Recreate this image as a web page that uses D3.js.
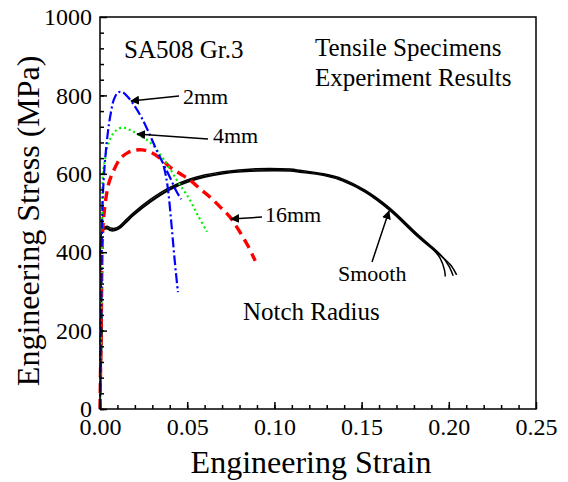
<!DOCTYPE html>
<html>
<head>
<meta charset="utf-8">
<script src="https://cdnjs.cloudflare.com/ajax/libs/d3/7.8.5/d3.min.js"></script>
<style>
  body { margin: 0; background: #fff; }
  svg text { font-family: "Liberation Serif", "Times New Roman", serif; fill: #000; }
</style>
</head>
<body>
<div class="board"></div>
<script>
var WIDTH = 568;
var HEIGHT = 482;
var margin = { left: 100, right: 32, top: 17, bottom: 73 };

var xTicks = [0, 0.05, 0.10, 0.15, 0.20, 0.25];
var yTicks = [0, 200, 400, 600, 800, 1000];

// [strain, stress]
var notch2mm = [[0, 0], [0.0008, 300], [0.0012, 480], [0.0018, 560], [0.003, 640], [0.0045, 705],
  [0.006, 750], [0.008, 790], [0.0105, 808], [0.013, 808], [0.016, 796], [0.020, 772],
  [0.024, 742], [0.028, 705], [0.032, 665], [0.036, 628], [0.040, 592], [0.0435, 558], [0.0465, 535]];
var notch2mmB = [[0.0365, 620], [0.038, 590], [0.0395, 540], [0.041, 470], [0.0425, 395], [0.0437, 340], [0.0447, 298]];
var notch4mm = [[0, 0], [0.0008, 300], [0.0012, 480], [0.0017, 600], [0.003, 640], [0.005, 680],
  [0.008, 705], [0.011, 716], [0.014, 717], [0.018, 710], [0.023, 697], [0.029, 679],
  [0.0355, 643], [0.040, 614], [0.044, 584], [0.048, 558], [0.0516, 533], [0.056, 495], [0.0614, 452]];
var notch16mm = [[0, 0], [0.0008, 250], [0.0015, 450], [0.003, 525], [0.005, 575], [0.0075, 605],
  [0.0115, 638], [0.016, 654], [0.020, 660], [0.024, 661], [0.029, 655], [0.035, 638],
  [0.0401, 617], [0.046, 600], [0.0516, 584], [0.057, 563], [0.063, 541], [0.069, 515],
  [0.0745, 490], [0.080, 453], [0.085, 415], [0.089, 378]];
var smoothA = [[0, 0], [0.0012, 200], [0.0017, 460], [0.004, 462], [0.006, 458], [0.0085, 457],
  [0.011, 462], [0.015, 478], [0.019, 496], [0.0287, 530], [0.040, 561], [0.0516, 584],
  [0.0705, 602], [0.090, 610], [0.109, 610], [0.1147, 606], [0.128, 598], [0.139, 584],
  [0.152, 555], [0.166, 510], [0.182, 443], [0.190, 412], [0.195, 385], [0.1975, 355], [0.198, 338]];
var smoothB = [[0.0017, 462], [0.004, 466], [0.006, 462], [0.0085, 461], [0.011, 466], [0.015, 483],
  [0.019, 500], [0.0287, 534], [0.040, 565], [0.0516, 587], [0.0705, 605], [0.090, 613],
  [0.109, 612], [0.1147, 609], [0.128, 600], [0.139, 587], [0.152, 558], [0.166, 513],
  [0.182, 446], [0.190, 415], [0.196, 390], [0.200, 365], [0.2025, 340]];
var smoothC = [[0.0017, 458], [0.004, 460], [0.006, 455], [0.0085, 455], [0.011, 460], [0.015, 476],
  [0.019, 493], [0.0287, 527], [0.040, 559], [0.0516, 581], [0.0705, 600], [0.090, 607],
  [0.109, 607], [0.1147, 604], [0.128, 596], [0.139, 582], [0.152, 553], [0.166, 507],
  [0.182, 440], [0.190, 410], [0.197, 385], [0.2015, 365], [0.2045, 342]];

var svg = d3.select('.board')
  .append('svg')
  .attr('width', WIDTH)
  .attr('height', HEIGHT);

var x = d3.scaleLinear().domain([0, 0.25]).range([margin.left, WIDTH - margin.right]);
var y = d3.scaleLinear().domain([0, 1000]).range([HEIGHT - margin.bottom, margin.top]);

var line = d3.line()
  .x(function(d) { return x(d[0]); })
  .y(function(d) { return y(d[1]); })
  .curve(d3.curveCatmullRom);

var drawCurve = function(data, color, width, dash) {
  svg.append('path')
    .datum(data)
    .attr('d', line)
    .attr('fill', 'none')
    .attr('stroke', color)
    .attr('stroke-width', width)
    .attr('stroke-dasharray', dash);
};

drawCurve(smoothA, '#000', 1.5, null);
drawCurve(smoothB, '#000', 1.5, null);
drawCurve(smoothC, '#000', 1.5, null);
drawCurve(notch16mm, '#ff0000', 3.4, '10,6');
drawCurve(notch4mm, '#00ee00', 2.2, '2,3');
drawCurve(notch2mm, '#0000ff', 2.2, '10,3,2,3');
drawCurve(notch2mmB, '#0000ff', 2.2, '10,3,2,3');

// frame
svg.append('rect')
  .attr('x', x(0))
  .attr('y', y(1000))
  .attr('width', x(0.25) - x(0))
  .attr('height', y(0) - y(1000))
  .attr('fill', 'none')
  .attr('stroke', '#000')
  .attr('stroke-width', 1.5);

var xAxis = svg.append('g')
  .attr('transform', 'translate(0,' + y(0) + ')')
  .call(d3.axisBottom(x).tickValues(xTicks).tickSize(-7).tickPadding(12)
    .tickFormat(d3.format('.2f')));
svg.append('g')
  .attr('transform', 'translate(0,' + y(0) + ')')
  .call(d3.axisBottom(x).tickValues(d3.range(0, 0.25, 0.01)).tickSize(-4).tickFormat(''));

var yAxis = svg.append('g')
  .attr('transform', 'translate(' + x(0) + ',0)')
  .call(d3.axisLeft(y).tickValues(yTicks).tickSize(-7).tickPadding(8).tickFormat(d3.format('d')));
svg.append('g')
  .attr('transform', 'translate(' + x(0) + ',0)')
  .call(d3.axisLeft(y).tickValues(d3.range(0, 1000, 40)).tickSize(-4).tickFormat(''));

svg.selectAll('.domain').remove();
svg.selectAll('.tick line').attr('stroke', '#000').attr('stroke-width', 1.5);
xAxis.selectAll('text').attr('font-size', 24).attr('dy', '0.6em');
yAxis.selectAll('text').attr('font-size', 24);
svg.selectAll('.tick text').style('font-family', '"Liberation Serif", "Times New Roman", serif').attr('fill', '#000');

svg.append('text')
  .attr('x', 311)
  .attr('y', 473)
  .attr('text-anchor', 'middle')
  .attr('font-size', 32)
  .text('Engineering Strain');

svg.append('text')
  .attr('transform', 'translate(39,' + y(480) + ') rotate(-90)')
  .attr('text-anchor', 'middle')
  .attr('font-size', 32)
  .text('Engineering Stress (MPa)');

var label = function(tx, ty, str, size) {
  svg.append('text').attr('x', tx).attr('y', ty).attr('font-size', size).text(str);
};
label(124, 58, 'SA508 Gr.3', 25);
label(315, 56, 'Tensile Specimens', 25);
label(315, 86, 'Experiment Results', 25);
label(183, 104, '2mm', 22);
label(213, 143, '4mm', 22);
label(265, 222, '16mm', 22);
label(338, 281, 'Smooth', 22);
label(243, 320, 'Notch Radius', 25);

svg.append('defs').append('marker')
  .attr('id', 'head')
  .attr('viewBox', '0 0 10 10')
  .attr('refX', 9)
  .attr('refY', 5)
  .attr('markerWidth', 9)
  .attr('markerHeight', 9)
  .attr('markerUnits', 'userSpaceOnUse')
  .attr('orient', 'auto')
  .append('path')
  .attr('d', 'M0,0 L10,5 L0,10 Z')
  .attr('fill', '#000');

var arrow = function(x1, y1, x2, y2) {
  svg.append('line')
    .attr('x1', x1).attr('y1', y1).attr('x2', x2).attr('y2', y2)
    .attr('stroke', '#000').attr('stroke-width', 1.5)
    .attr('marker-end', 'url(#head)');
};
arrow(179, 96, 131, 101);
arrow(208, 139, 137, 134);
arrow(262, 217, 231, 219);
arrow(372, 262, 389, 211);
</script>
</body>
</html>
